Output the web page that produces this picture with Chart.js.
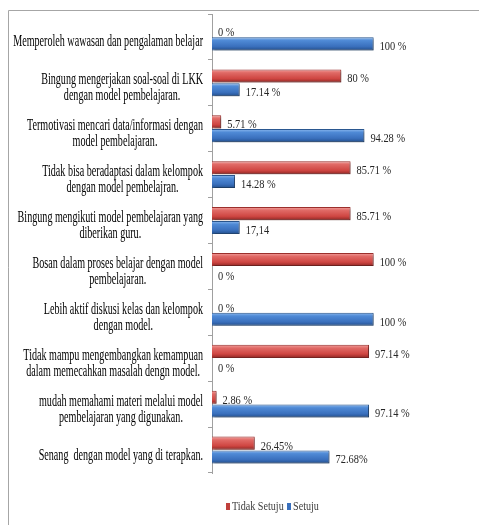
<!DOCTYPE html>
<html>
<head>
<meta charset="utf-8">
<script src="https://cdn.jsdelivr.net/npm/chart.js@4.4.1/dist/chart.umd.min.js"></script>
<style>
  html, body { margin: 0; padding: 0; background: #ffffff; }
  #wrap { width: 479px; height: 525px; }
</style>
</head>
<body>
<div id="wrap"><canvas id="c" width="479" height="525"></canvas></div>
<script>
// ---- data ----
const categories = [
  ["Memperoleh wawasan dan pengalaman belajar"],
  ["Bingung mengerjakan soal-soal di LKK", "dengan model pembelajaran."],
  ["Termotivasi mencari data/informasi dengan", "model pembelajaran."],
  ["Tidak bisa beradaptasi dalam kelompok", "dengan model pembelajran."],
  ["Bingung mengikuti model pembelajaran yang", "diberikan guru."],
  ["Bosan dalam proses belajar dengan model", "pembelajaran."],
  ["Lebih aktif diskusi kelas dan kelompok", "dengan model."],
  ["Tidak mampu mengembangkan kemampuan", "dalam memecahkan masalah dengn model."],
  ["mudah memahami materi melalui model", "pembelajaran yang digunakan."],
  ["Senang  dengan model yang di terapkan."]
];
const seriesNames = ["Tidak Setuju", "Setuju"];
const tidakSetuju = [0, 80, 5.71, 85.71, 85.71, 100, 0, 97.14, 2.86, 26.45];
const setuju = [100, 17.14, 94.28, 14.28, 17.14, 0, 100, 0, 97.14, 72.68];
const tidakSetujuLabels = ["0 %", "80 %", "5.71 %", "85.71 %", "85.71 %", "100 %", "0 %", "97.14 %", "2.86 %", "26.45%"];
const setujuLabels = ["100 %", "17.14 %", "94.28 %", "14.28 %", "17,14", "0 %", "100 %", "0 %", "97.14 %", "72.68%"];
const valueLabels = [tidakSetujuLabels, setujuLabels];

// ---- style ----
const CP = 0.6, BP = 0.95;
const SERIF = "'Liberation Serif', 'Times New Roman', serif";
const redStops = ["#f3a29f", "#e06a66", "#cf4642", "#8f2724"];
const blueStops = ["#8fbbef", "#4f8ad6", "#3a70bd", "#234f8c"];

function barFill(ctx, stops) {
  const chart = ctx.chart;
  const ys = chart.scales && chart.scales.y;
  if (!ys || !chart.chartArea || ctx.dataIndex === undefined) return stops[2];
  const catH = (ys.bottom - ys.top) / categories.length;
  const slot = catH * CP / 2;
  const t = slot * BP;
  const yc = ys.getPixelForValue(ctx.dataIndex);
  const y0 = (ctx.datasetIndex === 0 ? yc - slot / 2 : yc + slot / 2) - t / 2;
  const g = chart.ctx.createLinearGradient(0, y0, 0, y0 + t);
  g.addColorStop(0, stops[0]);
  g.addColorStop(0.25, stops[1]);
  g.addColorStop(0.7, stops[2]);
  g.addColorStop(1, stops[3]);
  return g;
}

function drawScaledText(c, text, x, y, align, sx) {
  c.save();
  c.translate(x, y);
  c.scale(sx, 1);
  c.textAlign = align;
  c.fillText(text, 0, 0);
  c.restore();
}

const decorPlugin = {
  id: "decor",
  beforeDraw(chart) {
    const c = chart.ctx;
    c.save();
    c.strokeStyle = "#a6a6a6";
    c.lineWidth = 1;
    c.beginPath();
    c.moveTo(8.5, 525);
    c.lineTo(8.5, 10.5);
    c.lineTo(479, 10.5);
    c.stroke();
    c.restore();
  },
  beforeDatasetsDraw(chart) {
    const c = chart.ctx;
    c.save();
    c.shadowColor = "rgba(0,0,0,0.35)";
    c.shadowOffsetX = 1.5;
    c.shadowOffsetY = 1.5;
    c.shadowBlur = 2;
  },
  afterDatasetsDraw(chart) {
    const c = chart.ctx;
    c.restore();
    // value labels
    c.save();
    c.fillStyle = "#262626";
    c.font = "13px " + SERIF;
    c.textBaseline = "middle";
    chart.data.datasets.forEach((ds, di) => {
      const meta = chart.getDatasetMeta(di);
      meta.data.forEach((el, i) => {
        drawScaledText(c, valueLabels[di][i], el.x + 6, el.y + 3, "left", 0.8);
      });
    });
    c.restore();
  },
  afterDraw(chart) {
    const c = chart.ctx;
    const ys = chart.scales.y;
    const SX = 0.595;
    c.save();
    c.fillStyle = "#000000";
    c.font = "17px " + SERIF;
    c.textBaseline = "middle";
    const right = 203, lineH = 16;
    categories.forEach((lines, i) => {
      const yc = ys.getPixelForValue(i) + 5;
      let w = 0;
      lines.forEach(l => { w = Math.max(w, c.measureText(l).width * SX); });
      const cx = right - w / 2;
      lines.forEach((l, k) => {
        drawScaledText(c, l, cx, yc + (k - (lines.length - 1) / 2) * lineH, "center", SX);
      });
    });
    // legend
    c.font = "13px " + SERIF;
    const ly = 506;
    const items = [[226, "#c0403c"], [287, "#3a70bd"]];
    items.forEach((it, k) => {
      c.fillStyle = it[1];
      c.fillRect(it[0], ly - 3, 4, 7);
      c.fillStyle = "#404040";
      drawScaledText(c, seriesNames[k], it[0] + 6, ly + 1, "left", 0.78);
    });
    c.restore();
  }
};

new Chart(document.getElementById("c"), {
  type: "bar",
  data: {
    labels: categories,
    datasets: [
      {
        label: seriesNames[0],
        data: tidakSetuju,
        backgroundColor: (ctx) => barFill(ctx, redStops),
        borderColor: "#9b2f2c",
        borderWidth: 1,
        categoryPercentage: CP,
        barPercentage: BP
      },
      {
        label: seriesNames[1],
        data: setuju,
        backgroundColor: (ctx) => barFill(ctx, blueStops),
        borderColor: "#2a5790",
        borderWidth: 1,
        categoryPercentage: CP,
        barPercentage: BP
      }
    ]
  },
  options: {
    indexAxis: "y",
    responsive: false,
    animation: false,
    devicePixelRatio: 1,
    layout: { padding: { left: 0, top: 14, right: 73, bottom: 52 } },
    plugins: {
      legend: { display: false },
      tooltip: { enabled: false }
    },
    scales: {
      x: { display: false, min: 0, max: 120 },
      y: {
        afterFit(scale) { scale.width = 212; },
        ticks: { display: false },
        grid: { display: true, drawOnChartArea: false, drawTicks: true, tickLength: 4, offset: true, color: "#a0a0a0" },
        border: { display: true, color: "#a0a0a0" }
      }
    }
  },
  plugins: [decorPlugin]
});
</script>
</body>
</html>
